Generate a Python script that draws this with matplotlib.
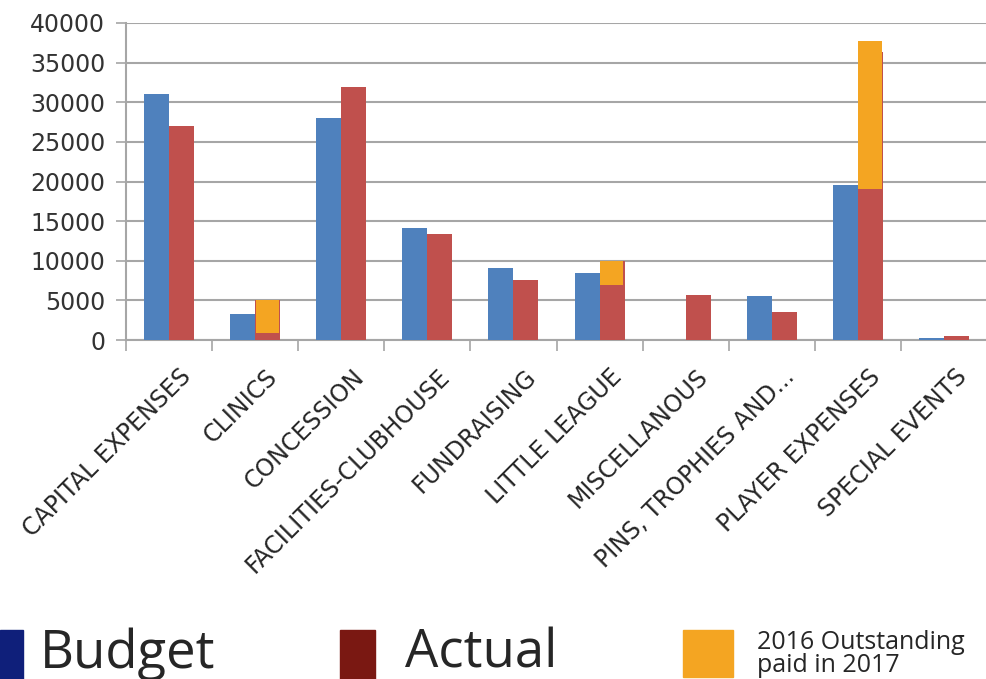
import numpy as np
import matplotlib.pyplot as plt
from matplotlib.patches import Rectangle

# Data
kategori = ["CAPITAL EXPENSES", "CLINICS", "CONCESSION", "FACILITIES-CLUBHOUSE",
            "FUNDRAISING", "LITTLE LEAGUE", "MISCELLANOUS", "PINS, TROPHIES AND...",
            "PLAYER EXPENSES", "SPECIAL EVENTS"]
budget = [31000, 3300, 28000, 14100, 9100, 8500, 0, 5500, 19600, 300]
actual = [27000, 5000, 31900, 13400, 7600, 10000, 5700, 3500, 36400, 550]

# 2016 outstanding paid in 2017 (overlay on actual bars)
outstanding_idx = [1, 5, 8]
outstanding_bawah = [900, 7000, 19000]
outstanding_atas = [5000, 10000, 37700]

y_ticks = [0, 5000, 10000, 15000, 20000, 25000, 30000, 35000, 40000]

warna_budget = "#4f81bd"
warna_actual = "#c0504d"
warna_orange = "#f4a522"

fig = plt.figure(figsize=(9.87, 6.79), dpi=100)
ax = fig.add_axes([126 / 987, 1 - 340 / 679, (987 - 126) / 987, (340 - 23) / 679])

x = np.arange(len(kategori))
lebar = 0.29
ax.bar(x - lebar / 2, budget, lebar, color=warna_budget, zorder=3)
ax.bar(x + lebar / 2, actual, lebar, color=warna_actual, zorder=3)
for i, b, t in zip(outstanding_idx, outstanding_bawah, outstanding_atas):
    ax.bar(x[i] + lebar / 2 - 0.005, t - b, lebar - 0.02, bottom=b,
           color=warna_orange, zorder=4)

ax.set_xlim(-0.5, len(kategori) - 0.5)
ax.set_ylim(0, 40000)
ax.set_yticks(y_ticks)
ax.set_yticklabels([str(v) for v in y_ticks], fontsize=17, color="#333333",
                   family="DejaVu Sans")
ax.yaxis.grid(True, color="#a6a6a6", linewidth=1.5, zorder=0)
ax.tick_params(axis="y", length=7, width=1.2, color="#a6a6a6", pad=8)

# x ticks at group boundaries, labels at centers
ax.set_xticks(np.arange(-0.5, len(kategori), 1.0))
ax.set_xticklabels([])
ax.tick_params(axis="x", length=8, width=1.2, color="#a6a6a6")
for xi, nama in zip(x, kategori):
    ax.text(xi + 0.12, -3100, nama, rotation=45, ha="right", va="top",
            rotation_mode="anchor", fontsize=17, color="#262626",
            family="DejaVu Sans")

for s in ["top", "right"]:
    ax.spines[s].set_visible(False)
ax.spines["left"].set_color("#a6a6a6")
ax.spines["left"].set_linewidth(1.5)
ax.spines["bottom"].set_color("#a6a6a6")
ax.spines["bottom"].set_linewidth(1.5)

# legend drawn by hand at the bottom
def kotak(x0, y0, w, h, c):
    fig.patches.append(Rectangle((x0 / 987, 1 - (y0 + h) / 679), w / 987, h / 679,
                                 transform=fig.transFigure, color=c))

kotak(0, 630, 23, 49, "#0f1f7a")
fig.text(40 / 987, 1 - 654 / 679, "Budget", fontsize=38, color="#262626",
         va="center", family="Open Sans")
kotak(340, 630, 35, 49, "#7a1812")
fig.text(405 / 987, 1 - 654 / 679, "Actual", fontsize=38, color="#262626",
         va="center", family="Open Sans")
kotak(683, 630, 50, 47, warna_orange)
fig.text(757 / 987, 1 - 654 / 679, "2016 Outstanding\npaid in 2017", fontsize=18,
         color="#262626", va="center", linespacing=0.85, family="Open Sans")

fig.savefig("out.png", dpi=100)
